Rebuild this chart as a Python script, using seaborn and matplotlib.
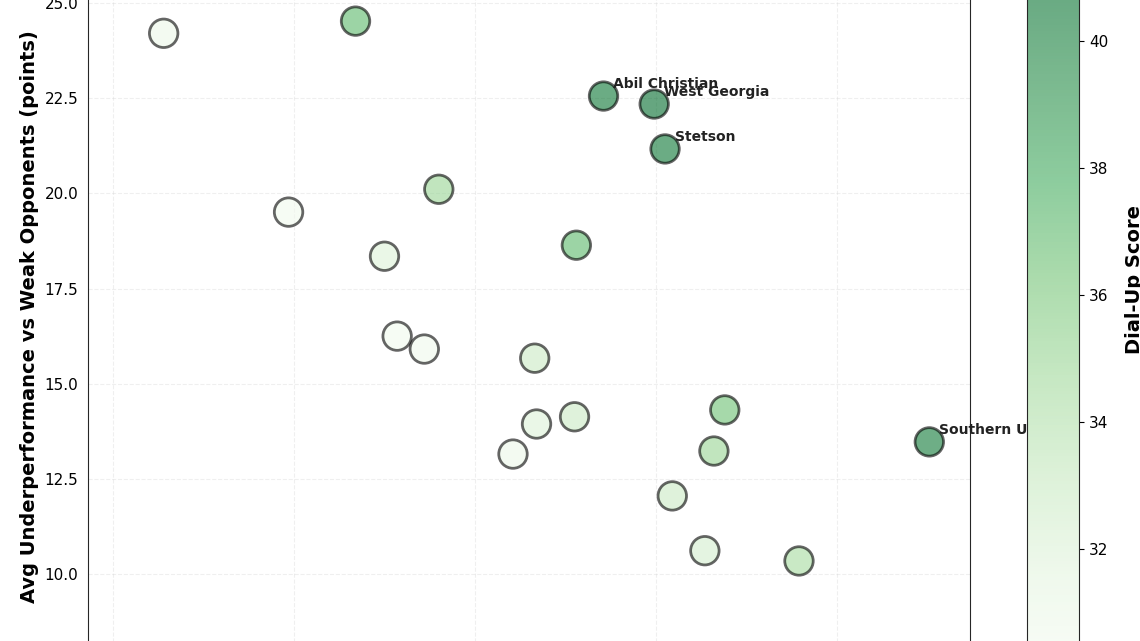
import pandas as pd
import matplotlib
matplotlib.use('Agg')
import matplotlib.pyplot as plt
import seaborn as sns

teams = ['Team A', 'Team B', 'Team C', 'Team D', 'Team E', 'Team F', 'Abil Christian',
         'West Georgia', 'Stetson', 'Team J', 'Team K', 'Team L', 'Team M', 'Team N',
         'Team O', 'Team P', 'Team Q', 'Southern Utah', 'Team S', 'Team T', 'Team U']
x_vals = [0.28, 1.34, 0.97, 1.80, 1.50, 2.56, 2.71, 2.99, 3.05, 1.57, 1.72, 2.33,
          2.34, 2.55, 2.21, 3.38, 3.32, 4.51, 3.09, 3.27, 3.79]
underperf = [24.21, 24.53, 19.51, 20.11, 18.35, 18.64, 22.56, 22.35, 21.17, 16.25, 15.91,
             15.67, 13.94, 14.13, 13.15, 14.31, 13.23, 13.47, 12.05, 10.61, 10.34]
dialup = [31.0, 37.0, 30.5, 35.0, 32.0, 37.0, 40.5, 41.0, 40.5, 30.5, 30.7, 33.0,
          32.0, 33.0, 31.0, 36.5, 35.0, 40.3, 33.0, 32.5, 34.5]
labeled = ['Abil Christian', 'West Georgia', 'Stetson', 'Southern Utah']

df = pd.DataFrame({'team': teams, 'x': x_vals, 'y': underperf, 'score': dialup})

sns.set_style('white')
plt.rcParams['text.color'] = 'black'
plt.rcParams['axes.labelcolor'] = 'black'
plt.rcParams['xtick.color'] = 'black'
plt.rcParams['ytick.color'] = 'black'
fig = plt.figure(figsize=(11.4, 6.41), dpi=100)
ax = fig.add_axes([0.0772, -0.0437, 0.7737, 1.098])
vmin, vmax = 30, 42.5
norm = plt.Normalize(vmin, vmax)
sns.scatterplot(data=df, x='x', y='y', hue='score', hue_norm=norm, palette='Greens',
                s=420, alpha=0.6, edgecolor='black', linewidth=2, legend=False, ax=ax, zorder=3)
for _, r in df[df.team.isin(labeled)].iterrows():
    ax.annotate(r.team, (r.x, r.y), xytext=(7, 6), textcoords='offset points',
                fontsize=10, fontweight='bold', color='#222222', zorder=4)

ax.set_xlim(-0.138, 4.735)
ax.set_ylim(7.5, 26)
ax.set_xticks([0, 1, 2, 3, 4])
ax.grid(True, linestyle='--', alpha=0.3)
ax.set_xlabel('')
ax.set_ylabel('Avg Underperformance vs Weak Opponents (points)', fontsize=14, fontweight='bold')
ax.tick_params(labelsize=11)

cax = fig.add_axes([0.9009, -0.0546, 0.046, 1.2383])
sm = plt.cm.ScalarMappable(cmap='Greens', norm=norm)
cb = fig.colorbar(sm, cax=cax, alpha=0.6)
cb.set_ticks([32, 34, 36, 38, 40])
cb.ax.tick_params(labelsize=11)
cb.set_label('Dial-Up Score', fontsize=14, fontweight='bold', labelpad=12)

fig.savefig('out.png', dpi=100)
